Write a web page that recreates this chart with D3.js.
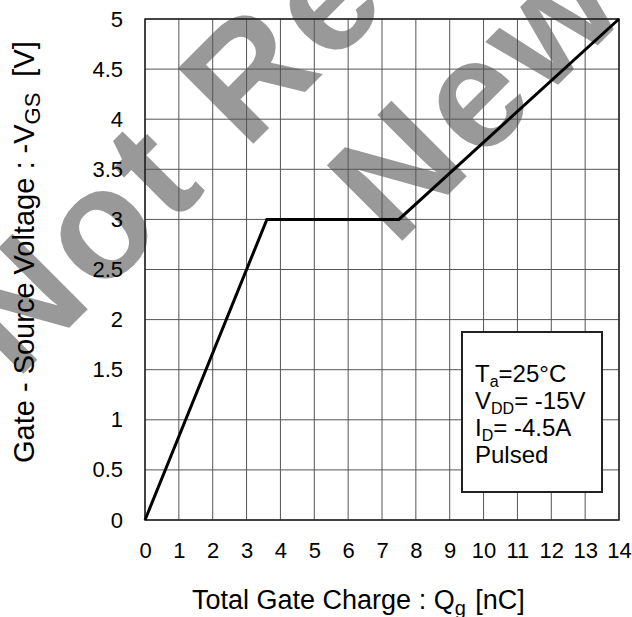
<!DOCTYPE html>
<html>
<head>
<meta charset="utf-8">
<script src="https://cdn.jsdelivr.net/npm/d3@7"></script>
<style>
  body { margin: 0; background: #fff; }
  svg { display: block; }
  text { font-family: Arial, "Liberation Sans", sans-serif; fill: #000; }
</style>
</head>
<body>
<div id="chart"></div>
<script>
////////////////////////////////////////////////////////////////////////////////
// Data
var qg  = [0, 3.6, 7.5, 14];      // total gate charge [nC]
var vgs = [0, 3.0, 3.0, 5.0];     // -VGS [V]

var xTicks = [0, 1, 2, 3, 4, 5, 6, 7, 8, 9, 10, 11, 12, 13, 14];
var yTicks = [0, 0.5, 1, 1.5, 2, 2.5, 3, 3.5, 4, 4.5, 5];

var legendLines = [
  {main: 'T', sub: 'a', rest: '=25°C'},
  {main: 'V', sub: 'DD', rest: '= -15V'},
  {main: 'I', sub: 'D', rest: '= -4.5A'},
  {main: 'Pulsed', sub: '', rest: ''}
];

var watermark = ['Not Recommended for', 'New Designs'];

////////////////////////////////////////////////////////////////////////////////
var W = 632, H = 617;
var margin = {top: 19, right: 13, bottom: 97, left: 145},
  width = W - margin.left - margin.right,
  height = H - margin.top - margin.bottom;

var svg = d3.select('#chart').append('svg')
  .attr('width', W)
  .attr('height', H);

// watermark sits under everything
var wm = svg.append('g').attr('class', 'watermark');
var wmPos = [[16, 381], [395, 248]];
watermark.forEach(function(t, i) {
  wm.append('text')
    .attr('transform', 'translate(' + wmPos[i][0] + ',' + wmPos[i][1] + ') rotate(-45)')
    .style('font-size', '155px')
    .style('font-weight', 'bold')
    .style('letter-spacing', '6px')
    .style('fill', '#999999')
    .text(t);
});

var g = svg.append('g')
  .attr('transform', 'translate(' + margin.left + ',' + margin.top + ')');

var x = d3.scaleLinear().domain([0, 14]).range([0, width]);
var y = d3.scaleLinear().domain([0, 5]).range([height, 0]);

// grid
g.append('g').selectAll('line')
  .data(xTicks)
  .enter().append('line')
  .attr('x1', function(d) { return x(d); })
  .attr('x2', function(d) { return x(d); })
  .attr('y1', 0).attr('y2', height)
  .attr('stroke', '#555').attr('stroke-width', 1);

g.append('g').selectAll('line')
  .data(yTicks)
  .enter().append('line')
  .attr('y1', function(d) { return y(d); })
  .attr('y2', function(d) { return y(d); })
  .attr('x1', 0).attr('x2', width)
  .attr('stroke', '#555').attr('stroke-width', 1);

g.append('rect')
  .attr('width', width).attr('height', height)
  .attr('fill', 'none').attr('stroke', '#222').attr('stroke-width', 1.5);

// axes (labels only, the frame is the grid)
var xAxis = g.append('g')
  .attr('transform', 'translate(0,' + height + ')')
  .call(d3.axisBottom(x).tickValues(xTicks).tickSize(0).tickPadding(22).tickFormat(d3.format('d')));
var yAxis = g.append('g')
  .call(d3.axisLeft(y).tickValues(yTicks).tickSize(0).tickPadding(22).tickFormat(function(d) { return String(d); }));
[xAxis, yAxis].forEach(function(a) {
  a.select('.domain').remove();
  a.selectAll('text')
    .style('font-size', '22px')
    .style('font-family', 'Arial, "Liberation Sans", sans-serif')
    .attr('fill', '#000');
});

// curve
g.append('path')
  .datum(qg.map(function(d, i) { return [d, vgs[i]]; }))
  .attr('fill', 'none')
  .attr('stroke', '#000')
  .attr('stroke-width', 3)
  .attr('stroke-linejoin', 'miter')
  .attr('d', d3.line()
    .x(function(d) { return x(d[0]); })
    .y(function(d) { return y(d[1]); }));

// legend box
var box = svg.append('g').attr('transform', 'translate(462,332)');
box.append('rect')
  .attr('width', 140).attr('height', 160)
  .attr('fill', '#fff').attr('stroke', '#222').attr('stroke-width', 2);
legendLines.forEach(function(l, i) {
  var t = box.append('text')
    .attr('x', 13).attr('y', 50 + i * 27)
    .style('font-size', '24px');
  t.append('tspan').text(l.main);
  if (l.sub) {
    t.append('tspan').attr('dy', 5).style('font-size', '16px').text(l.sub);
    t.append('tspan').attr('dy', -5).text(l.rest);
  }
});

// axis titles
var xt = svg.append('text')
  .attr('x', 192).attr('y', 609)
  .style('font-size', '27px');
xt.append('tspan').text('Total Gate Charge : Q');
xt.append('tspan').attr('dy', 6).style('font-size', '20px').text('g');
xt.append('tspan').attr('dy', -6).attr('dx', 2).text(' [nC]');

var yt = svg.append('text')
  .attr('transform', 'translate(34,463) rotate(-90)')
  .style('font-size', '29px');
yt.append('tspan').text('Gate - Source Voltage : -V');
yt.append('tspan').attr('dy', 6).style('font-size', '22px').text('GS');
yt.append('tspan').attr('dy', -6).attr('dx', 8).text(' [V]');
</script>
</body>
</html>
